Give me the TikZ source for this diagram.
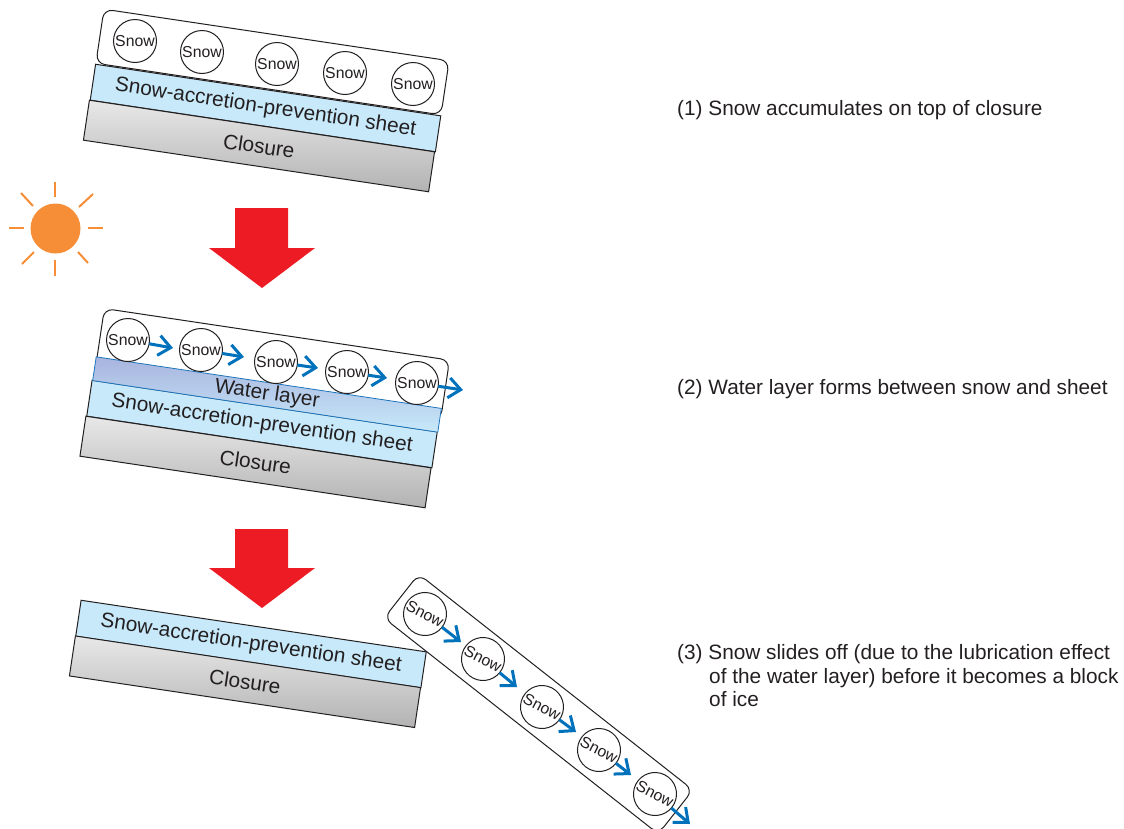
\documentclass[tikz,border=0pt]{standalone}
\usepackage{fontspec}
\setmainfont{Liberation Sans}
\usetikzlibrary{arrows.meta}
\definecolor{inkdark}{HTML}{231F20}
\definecolor{sheetblue}{HTML}{C7E9FA}
\definecolor{watertop}{HTML}{A8B4DE}
\definecolor{waterblue}{HTML}{1C75BC}
\definecolor{flowblue}{HTML}{0072BC}
\definecolor{sunorange}{HTML}{F68E38}
\definecolor{arrowred}{HTML}{ED1C24}
\tikzset{
  layerfont/.style={font=\fontsize{20.8}{23.5}\selectfont,text=inkdark},
  snowbox/.style={draw=inkdark,line width=1pt,fill=white,rounded corners=9pt,minimum width=349pt,inner sep=0pt,outer sep=0pt},
  snowball/.style={circle,draw=inkdark,line width=1pt,fill=white,minimum size=43pt,inner sep=0pt,outer sep=0pt,font=\fontsize{15.8}{18}\selectfont,text=inkdark},
  sheetlayer/.style={layerfont,draw=inkdark,line width=1pt,fill=sheetblue,minimum width=349pt,minimum height=36.3pt,inner sep=0pt,outer sep=0pt},
  closurelayer/.style={layerfont,draw=inkdark,line width=1pt,top color=gray!18,bottom color=gray!60,minimum width=349pt,minimum height=40.4pt,inner sep=0pt,outer sep=0pt},
  waterlayer/.style={layerfont,draw=waterblue,line width=.8pt,top color=watertop,bottom color=sheetblue,minimum width=349pt,minimum height=24pt,inner sep=0pt,outer sep=0pt},
  flowarrow/.style={draw=flowblue,line width=3pt,-{Straight Barb[length=12pt,width=20pt]}},
  sunray/.style={draw=sunorange,line width=2pt},
  bigarrow/.style={fill=arrowred,draw=none},
  caption/.style={layerfont,anchor=west,align=left,inner sep=0pt}
}
\begin{document}
\begin{tikzpicture}[x=1pt,y=-1pt]
\clip (0,0) rectangle (1124,828);

\node (box1) [snowbox,minimum height=54.7pt,rotate=-8.5] at (272.5,62) {};
\node (sheet1) [sheetlayer,rotate=-8.5] at (265.5,108) {Snow-accretion-prevention sheet};
\node (closure1) [closurelayer,rotate=-8.5] at (259,146) {Closure};
\node (snow11) [snowball] at (135,41) {Snow};
\node (snow12) [snowball] at (202,52) {Snow};
\node (snow13) [snowball] at (277,64) {Snow};
\node (snow14) [snowball] at (345,73) {Snow};
\node (snow15) [snowball] at (413,84) {Snow};

\node (sun) [circle,fill=sunorange,minimum size=50pt,inner sep=0pt] at (55.5,228.5) {};
\draw [sunray] (55,182) -- (55,197);
\draw [sunray] (55,260) -- (55,276);
\draw [sunray] (9,228) -- (24,228);
\draw [sunray] (88,228) -- (103,228);
\draw [sunray] (21,193) -- (33,206);
\draw [sunray] (93,194) -- (79,207);
\draw [sunray] (34,252) -- (22,264);
\draw [sunray] (78,252) -- (88,263);

\fill [bigarrow] (235,208) -- (288,208) -- (288,248) -- (315,248) -- (262,288) -- (209,248) -- (235,248) -- cycle;

\node (box2) [snowbox,minimum height=60pt,rotate=-8.5] at (272.5,364) {};
\node (sheet2) [sheetlayer,rotate=-8.5] at (262,424) {Snow-accretion-prevention sheet};
\node (water2) [waterlayer,rotate=-8.5] at (267,394.5) {Water layer};
\node (closure2) [closurelayer,rotate=-8.5] at (255.5,462) {Closure};
\node (snow21) [snowball] at (128,340) {Snow};
\node (snow22) [snowball] at (201,350) {Snow};
\node (snow23) [snowball] at (276,362) {Snow};
\node (snow24) [snowball] at (347,372) {Snow};
\node (snow25) [snowball] at (417,383) {Snow};
\coordinate (end21) at (173,348);
\coordinate (end22) at (244,357);
\coordinate (end23) at (318,368);
\coordinate (end24) at (387,378);
\coordinate (end25) at (463,390);
\draw [flowarrow] (snow21) -- (end21);
\draw [flowarrow] (snow22) -- (end22);
\draw [flowarrow] (snow23) -- (end23);
\draw [flowarrow] (snow24) -- (end24);
\draw [flowarrow] (snow25) -- (end25);

\fill [bigarrow] (235,529) -- (288,529) -- (288,568) -- (315,568) -- (262,608) -- (209,568) -- (235,568) -- cycle;

\node (sheet3) [sheetlayer,rotate=-8.5] at (251,644) {Snow-accretion-prevention sheet};
\node (closure3) [closurelayer,rotate=-8.5] at (245,681.75) {Closure};

\node (box3) [snowbox,minimum height=56pt,rotate=-38.2] at (538.5,704) {};
\node (snow31) [snowball,rotate=-27] at (425,614) {Snow};
\node (snow32) [snowball,rotate=-27] at (483,659) {Snow};
\node (snow33) [snowball,rotate=-27] at (542,707) {Snow};
\node (snow34) [snowball,rotate=-27] at (599,750) {Snow};
\node (snow35) [snowball,rotate=-27] at (655,794) {Snow};
\coordinate (end31) at (461,642);
\coordinate (end32) at (517,687);
\coordinate (end33) at (576,732);
\coordinate (end34) at (631,775);
\coordinate (end35) at (690,824);
\draw [flowarrow] (snow31) -- (end31);
\draw [flowarrow] (snow32) -- (end32);
\draw [flowarrow] (snow33) -- (end33);
\draw [flowarrow] (snow34) -- (end34);
\draw [flowarrow] (snow35) -- (end35);

\node (step1) [caption] at (677,110) {(1) Snow accumulates on top of closure};
\node (step2) [caption] at (677,389) {(2) Water layer forms between snow and sheet};
\node (step3) [caption] at (677,676) {(3) Snow slides off (due to the lubrication effect\\\hspace*{32pt}of the water layer) before it becomes a block\\\hspace*{32pt}of ice};
\end{tikzpicture}
\end{document}
